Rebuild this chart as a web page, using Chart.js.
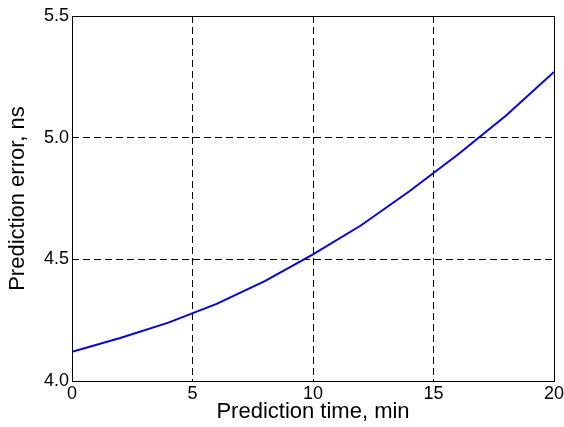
<!DOCTYPE html>
<html>
<head>
<meta charset="utf-8">
<script src="https://cdn.jsdelivr.net/npm/chart.js@4/dist/chart.umd.min.js"></script>
<style>
  html, body { margin: 0; padding: 0; background: #fff; }
  #wrap { width: 564px; height: 427px; }
</style>
</head>
<body>
<div id="wrap"><canvas id="chart" width="564" height="427"></canvas></div>
<script>
// prediction time (min) and error (ns)
const times = [0, 2, 4, 6, 8, 10, 12, 14, 16, 18, 20];
const errors = [4.12, 4.177, 4.24, 4.317, 4.41, 4.52, 4.64, 4.78, 4.93, 5.09, 5.27];
const xTicks = [0, 5, 10, 15, 20];
const yTicks = [4.0, 4.5, 5.0, 5.5];

Chart.defaults.font.family = '"Liberation Sans", Arial, sans-serif';
Chart.defaults.color = '#000';

// black box round the plot area, snapped like the grid lines
const snap = (p) => Math.round(p - 0.5) + 0.5;
const frame = {
  id: 'frame',
  afterDatasetsDraw(chart) {
    const { ctx, chartArea: a } = chart;
    const l = snap(a.left), r = snap(a.right), t = snap(a.top), b = snap(a.bottom);
    ctx.save();
    ctx.strokeStyle = '#000';
    ctx.lineWidth = 1;
    ctx.setLineDash([]);
    ctx.strokeRect(l, t, r - l, b - t);
    ctx.restore();
  }
};

new Chart(document.getElementById('chart'), {
  type: 'scatter',
  data: {
    datasets: [{
      data: times.map((x, i) => ({ x, y: errors[i] })),
      showLine: true,
      borderColor: '#0000ff',
      borderWidth: 2,
      pointRadius: 0,
      fill: false
    }]
  },
  options: {
    responsive: false,
    animation: false,
    events: [],
    layout: { padding: { left: 5, right: 10, top: 16, bottom: 2 } },
    plugins: { legend: { display: false }, tooltip: { enabled: false } },
    scales: {
      x: {
        type: 'linear',
        min: 0,
        max: 20,
        afterBuildTicks: (s) => { s.ticks = xTicks.map(value => ({ value })); },
        afterFit: (s) => { s.height = 44; s.paddingRight = 0; s.paddingLeft = 0; },
        grid: { color: '#000', lineWidth: 1, drawTicks: false },
        border: { display: false, dash: [7, 4] },
        ticks: { font: { size: 18 }, padding: 2, maxRotation: 0 },
        title: { display: true, text: 'Prediction time, min', font: { size: 22 }, padding: 0 }
      },
      y: {
        type: 'linear',
        min: 4.0,
        max: 5.5,
        afterBuildTicks: (s) => { s.ticks = yTicks.map(value => ({ value })); },
        afterFit: (s) => { s.width = 67; s.paddingTop = 0; s.paddingBottom = 0; },
        grid: { color: '#000', lineWidth: 1, drawTicks: false },
        border: { display: false, dash: [7, 4] },
        ticks: { font: { size: 18 }, padding: 3, callback: (v) => v.toFixed(1) },
        title: { display: true, text: 'Prediction error, ns', font: { size: 22 }, padding: 0 }
      }
    }
  },
  plugins: [frame]
});
</script>
</body>
</html>
